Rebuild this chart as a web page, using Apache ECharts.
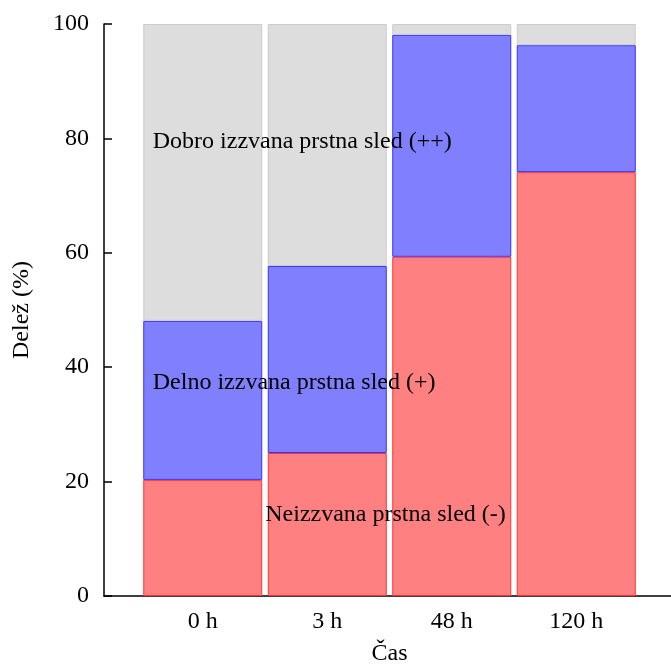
<!DOCTYPE html>
<html><head><meta charset="utf-8">
<script src="https://cdn.jsdelivr.net/npm/echarts@6/dist/echarts.min.js"></script>
<style>html,body{margin:0;padding:0;background:#fff}#c{width:671px;height:666px}</style>
</head><body><div id="c"></div>
<script>
const categories = ['0 h', '3 h', '48 h', '120 h'];
const neizzvana = [20.3, 25.0, 59.3, 74.1];
const delno = [27.8, 32.7, 38.8, 22.2];
const dobro = [51.9, 42.3, 1.9, 3.7];
const yTicks = [0, 20, 40, 60, 80, 100];
const labels = [
  {text: 'Dobro izzvana prstna sled (++)', cat: 0, dx: -50, y: 79.4},
  {text: 'Delno izzvana prstna sled (+)', cat: 0, dx: -50, y: 37.3},
  {text: 'Neizzvana prstna sled (-)', cat: 1, dx: -62, y: 14.3}
];

const FONT = 'Liberation Serif';
const FS = 24;
const chart = echarts.init(document.getElementById('c'));
function mk(name, vals, fill, border) {
  return {
    type: 'bar', name, stack: 's', barWidth: 119,
    xAxisIndex: 0, yAxisIndex: 0,
    data: vals,
    itemStyle: {color: fill, borderColor: border, borderWidth: 1},
    emphasis: {disabled: true}
  };
}
chart.setOption({
  animation: false,
  textStyle: {fontFamily: FONT},
  grid: [
    {left: 140.5, width: 498, top: 24, bottom: 70, outerBoundsMode: 'none', containLabel: false},
    {left: 104, right: 0, top: 24, bottom: 70, outerBoundsMode: 'none', containLabel: false}
  ],
  xAxis: [{
    type: 'category', data: categories, gridIndex: 0,
    axisLine: {show: false},
    axisTick: {show: false},
    axisLabel: {margin: 14, color: '#000', fontSize: FS, fontFamily: FONT},
    name: 'Čas', nameLocation: 'middle', nameGap: 46,
    nameTextStyle: {color: '#000', fontSize: FS, fontFamily: FONT}
  }, {
    type: 'value', gridIndex: 1, min: 0, max: 1,
    axisLine: {show: true, onZero: false, lineStyle: {color: '#000', width: 1.5}},
    axisTick: {show: false}, axisLabel: {show: false}, splitLine: {show: false}
  }],
  yAxis: [{
    type: 'value', gridIndex: 0, min: 0, max: 100, interval: 20, offset: 36.5,
    splitLine: {show: false},
    axisLine: {show: true, lineStyle: {color: '#000', width: 1.5}},
    axisTick: {show: true, inside: true, length: 8, lineStyle: {color: '#000', width: 1.5}},
    axisLabel: {color: '#000', fontSize: FS, fontFamily: FONT, margin: 15,
      formatter: v => yTicks.includes(v) ? String(v) : ''},
    name: 'Delež (%)', nameLocation: 'middle', nameGap: 70, nameRotate: 90,
    nameTextStyle: {color: '#000', fontSize: FS, fontFamily: FONT}
  }, {
    type: 'value', gridIndex: 1, min: 0, max: 1, show: false
  }],
  series: [
    mk('Neizzvana', neizzvana, '#ff8080', '#ff3333'),
    mk('Delno', delno, '#8080ff', '#3333ff'),
    mk('Dobro', dobro, '#dddddd', '#cccccc')
  ]
});
chart.setOption({
  graphic: labels.map(l => {
    const p = chart.convertToPixel({xAxisIndex: 0, yAxisIndex: 0}, [l.cat, l.y]);
    return {type: 'text', x: p[0] + l.dx, y: p[1], z: 100,
      style: {text: l.text, fill: '#000', font: FS + 'px "' + FONT + '"', textVerticalAlign: 'middle', textAlign: 'left'}};
  })
});
</script></body></html>
